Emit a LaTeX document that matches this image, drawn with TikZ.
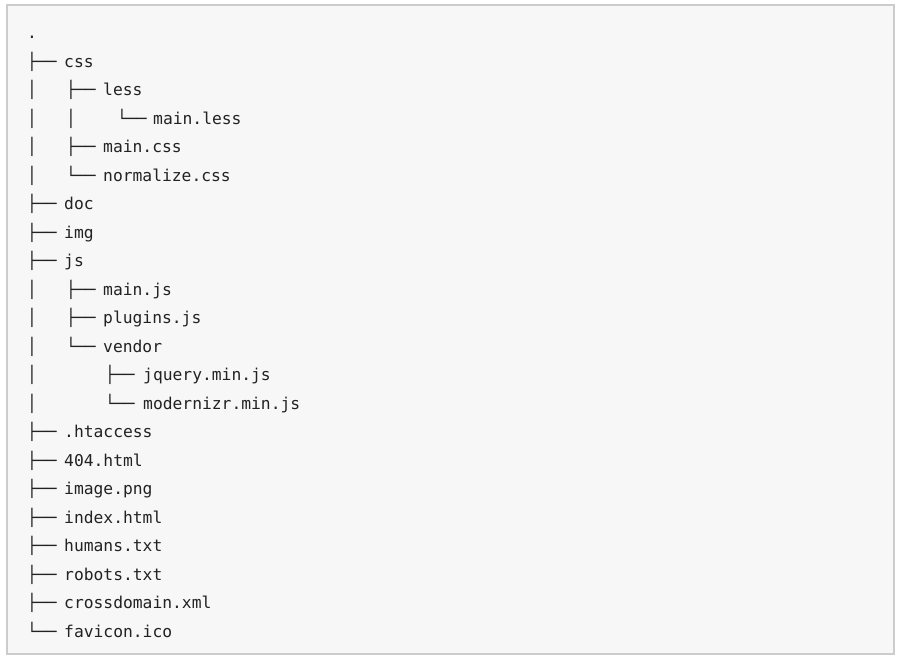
\documentclass[tikz,border=0pt]{standalone}
\usepackage{fontspec}
\setmonofont{DejaVu Sans Mono}
\definecolor{txt}{HTML}{222222}
\begin{document}
\begin{tikzpicture}[x=1pt,y=-1pt,
  t/.style={anchor=base west,inner sep=0pt,text=txt,font=\ttfamily\fontsize{16.3}{18}\selectfont}]
\useasboundingbox (0,0) rectangle (902,664);
\fill[white] (0,0) rectangle (902,664);
\draw[draw=black!20,fill=black!3,line width=1.2pt] (7,5) rectangle (894,654);
\def\r#1{\fpeval{38.5+28.5*#1}}
\node[t] (n0) at (27,\r{0}) {.};
\foreach \i/\g/\gx/\nx/\nm in {
 1/├──/27/64/css,
 2/├──/66/103/less,
 3/└──/117/153/main.less,
 4/├──/66/103/main.css,
 5/└──/66/103/normalize.css,
 6/├──/27/64/doc,
 7/├──/27/64/img,
 8/├──/27/64/js,
 9/├──/66/103/main.js,
 10/├──/66/103/plugins.js,
 11/└──/66/103/vendor,
 12/├──/105/143/jquery.min.js,
 13/└──/105/143/modernizr.min.js,
 14/├──/27/64/.htaccess,
 15/├──/27/64/404.html,
 16/├──/27/64/image.png,
 17/├──/27/64/index.html,
 18/├──/27/64/humans.txt,
 19/├──/27/64/robots.txt,
 20/├──/27/64/crossdomain.xml,
 21/└──/27/64/favicon.ico}{
  \node[t] (g\i) at (\gx,\r{\i}) {\g};
  \node[t] (n\i) at (\nx,\r{\i}) {\nm};
}
\foreach \i/\bx in {2/27,3/27,3/66,4/27,5/27,9/27,10/27,11/27,12/27,13/27}{
  \node[t] (b\i-\bx) at (\bx,\r{\i}) {│};
}
\end{tikzpicture}
\end{document}
